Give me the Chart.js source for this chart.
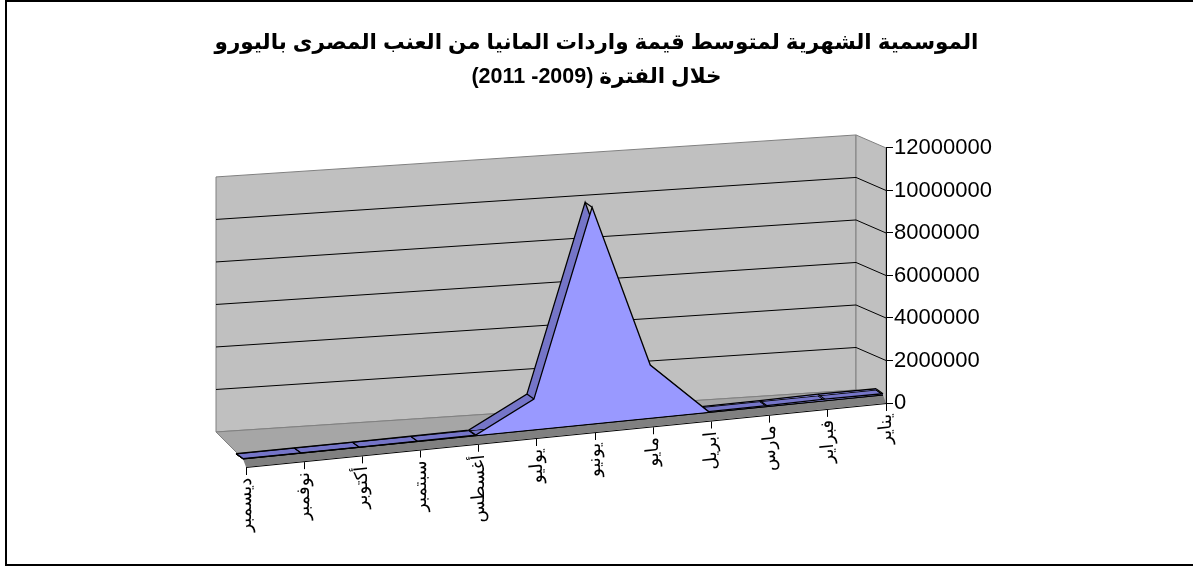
<!DOCTYPE html>
<html><head><meta charset="utf-8">
<script src="https://cdn.jsdelivr.net/npm/chart.js@4.4.1/dist/chart.umd.min.js"></script>
<style>
html,body{margin:0;padding:0;background:#fff;}
#wrap{position:relative;width:1193px;height:566px;overflow:hidden;}
#frame{position:absolute;left:5px;top:0px;width:1210px;height:566px;border:2px solid #000;box-sizing:border-box;pointer-events:none;}
canvas{position:absolute;left:0;top:0;}
</style></head><body>
<div id="wrap"><canvas id="c" width="1193" height="566"></canvas><div id="frame"></div></div>
<script>
// ---- data ----
const months = ['يناير','فبراير','مارس','ابريل','مايو','يونيو','يوليو','أغسطس','سبتمبر','أكتوبر','نوفمبر','ديسمبر'];
const values = [60000, 80000, 50000, 40000, 2500000, 10200000, 1450000, 30000, 20000, 10000, 10000, 20000];
const yTickValues = [0, 2000000, 4000000, 6000000, 8000000, 10000000, 12000000];
const titleLines = ['الموسمية الشهرية لمتوسط قيمة واردات المانيا من العنب المصرى باليورو', 'خلال الفترة (2009- 2011)'];
const yMin = 0, yMax = 12000000, yStep = 2000000;

// ---- style ----
const FONT = 'Arial, "DejaVu Sans", sans-serif';
const FRONT_COLOR = '#9999FF', TOP_COLOR = '#7575C8';
const WALL_COLOR = '#C0C0C0', FLOOR_TOP = '#A6A6A6', FLOOR_FRONT = '#808080';
const K_SER = 0.1, K_WALL = 0.0656;
const SER_SHIFT = [-3, -8], WALL_SHIFT = [-30, -13], TOP_SHIFT = [-7, -5];

function geom(chart){
  const ca = chart.chartArea, R = ca.right, L = ca.left;
  const ys = chart.scales.y;
  const S = (px,py)=>[px+SER_SHIFT[0], py + K_SER*(R-px) + SER_SHIFT[1]];
  const A = (px,py)=>[px, py + K_SER*(R-px)];
  const W = (px,py)=>[px+WALL_SHIFT[0], py + K_WALL*(R-px) + WALL_SHIFT[1]];
  const T = p=>[p[0]+TOP_SHIFT[0], p[1]+TOP_SHIFT[1]];
  return {L, R, y0: ys.getPixelForValue(yMin), yTop: ys.getPixelForValue(yMax), S, A, W, T};
}
function poly(ctx, pts, fill, stroke, lw){
  ctx.beginPath();
  pts.forEach((p,i)=> i ? ctx.lineTo(p[0],p[1]) : ctx.moveTo(p[0],p[1]));
  ctx.closePath();
  if (fill){ ctx.fillStyle = fill; ctx.fill(); }
  if (stroke){ ctx.strokeStyle = stroke; ctx.lineWidth = lw || 1; ctx.stroke(); }
}
function seg(ctx, a, b, color, lw){
  ctx.beginPath(); ctx.moveTo(a[0],a[1]); ctx.lineTo(b[0],b[1]);
  ctx.strokeStyle = color; ctx.lineWidth = lw || 1; ctx.stroke();
}
function serTransform(chart){
  const R = chart.chartArea.right;
  chart.ctx.transform(1, -K_SER, 0, 1, SER_SHIFT[0], K_SER*R + SER_SHIFT[1]);
}
function wrapX(chart){
  const s = chart.scales.x;
  if (!s || s._wrapped3d) return;
  ['drawGrid','drawBorder','drawLabels'].forEach(fn=>{
    const orig = s[fn];
    s[fn] = function(...a){
      const ctx = this.ctx, R = chart.chartArea.right;
      ctx.save();
      ctx.transform(1, -K_SER, 0, 1, 0, K_SER*R);
      orig.apply(this, a);
      ctx.restore();
    };
  });
  s._wrapped3d = true;
}

const pseudo3d = {
  id: 'pseudo3d',
  beforeDraw(chart){
    wrapX(chart);
    const ctx = chart.ctx;
    const {L, R, y0, yTop, S, A, W, T} = geom(chart);
    const ys = chart.scales.y, xs = chart.scales.x;
    ctx.save();
    poly(ctx, [W(L,yTop), W(R,yTop), W(R,y0), W(L,y0)], WALL_COLOR, '#808080', 1);
    poly(ctx, [W(R,yTop), A(R,yTop), A(R,y0), W(R,y0)], WALL_COLOR, '#808080', 1);
    yTickValues.forEach(v=>{
      if (v === yMin || v === yMax) return;
      const py = ys.getPixelForValue(v);
      const a = W(L,py), b = W(R,py), c = A(R,py);
      ctx.beginPath(); ctx.moveTo(a[0],a[1]); ctx.lineTo(b[0],b[1]); ctx.lineTo(c[0],c[1]);
      ctx.strokeStyle = '#000'; ctx.lineWidth = 1; ctx.stroke();
    });
    poly(ctx, [W(L,y0), W(R,y0), S(R,y0), S(L,y0)], FLOOR_TOP, '#808080', 1);
    poly(ctx, [S(L,y0), S(R,y0), A(R,y0), A(L,y0)], FLOOR_FRONT, null);
    const f0 = S(L,y0), f1 = S(R,y0);
    poly(ctx, [f0, f1, T(f1), T(f0)], TOP_COLOR, '#000', 1);
    months.forEach((m,i)=>{
      const p = S(xs.getPixelForValue(i), y0);
      seg(ctx, p, T(p), '#000', 1);
    });
    ctx.restore();
  },
  beforeDatasetsDraw(chart){
    const ctx = chart.ctx;
    ctx.save();
    ctx.translate(TOP_SHIFT[0], TOP_SHIFT[1]);
    serTransform(chart);
  },
  afterDatasetDraw(chart, args){
    const ctx = chart.ctx;
    const g = geom(chart);
    if (args.index === 1){
      ctx.restore();
      chart.getDatasetMeta(0).data.forEach(pt=>{
        const p = g.S(pt.x, pt.y);
        seg(ctx, p, g.T(p), '#000', 1.2);
      });
      ctx.save();
      serTransform(chart);
    } else if (args.index === 0){
      ctx.restore();
      seg(ctx, g.S(g.L, g.y0), g.S(g.R, g.y0), '#000', 1.2);
    }
  }
};

new Chart(document.getElementById('c'), {
  type: 'line',
  data: {
    labels: months,
    datasets: [
      { data: values, fill: 'origin', backgroundColor: FRONT_COLOR, borderColor: '#000', borderWidth: 1.3,
        pointRadius: 0, tension: 0, order: 0, clip: false },
      { data: values, fill: 'origin', backgroundColor: TOP_COLOR, borderColor: '#000', borderWidth: 1.3,
        pointRadius: 0, tension: 0, order: 1, clip: false }
    ]
  },
  options: {
    responsive: false, animation: false, devicePixelRatio: 1,
    layout: { padding: 0 },
    plugins: {
      legend: { display: false },
      tooltip: { enabled: false },
      title: { display: true, text: titleLines, color: '#000',
        font: { family: FONT, size: 21.5, weight: 'bold', lineHeight: 1.58 },
        padding: { top: 26, bottom: 54 } }
    },
    scales: {
      x: {
        reverse: true, offset: false,
        grid: { drawOnChartArea: false, drawTicks: true, tickLength: 8, color: '#000' },
        border: { color: '#000', width: 1 },
        ticks: { autoSkip: false, minRotation: 90, maxRotation: 90, color: '#000', padding: 3,
          font: { family: FONT, size: 18 } },
        afterFit(s){ s.height = 566 - 403; }
      },
      y: {
        position: 'right', min: yMin, max: yMax,
        grid: { drawOnChartArea: false, tickLength: 7, color: '#000' },
        border: { color: '#000', width: 1 },
        ticks: { stepSize: yStep, color: '#000', padding: 1, font: { family: FONT, size: 22 },
          callback: v => String(v) },
        afterFit(s){ s.width = 1193 - 886; }
      },
      spacer: {
        position: 'left', display: true,
        grid: { display: false }, border: { display: false },
        ticks: { display: false },
        afterFit(s){ s.width = 246; }
      }
    }
  },
  plugins: [pseudo3d]
});
</script>
</body></html>
